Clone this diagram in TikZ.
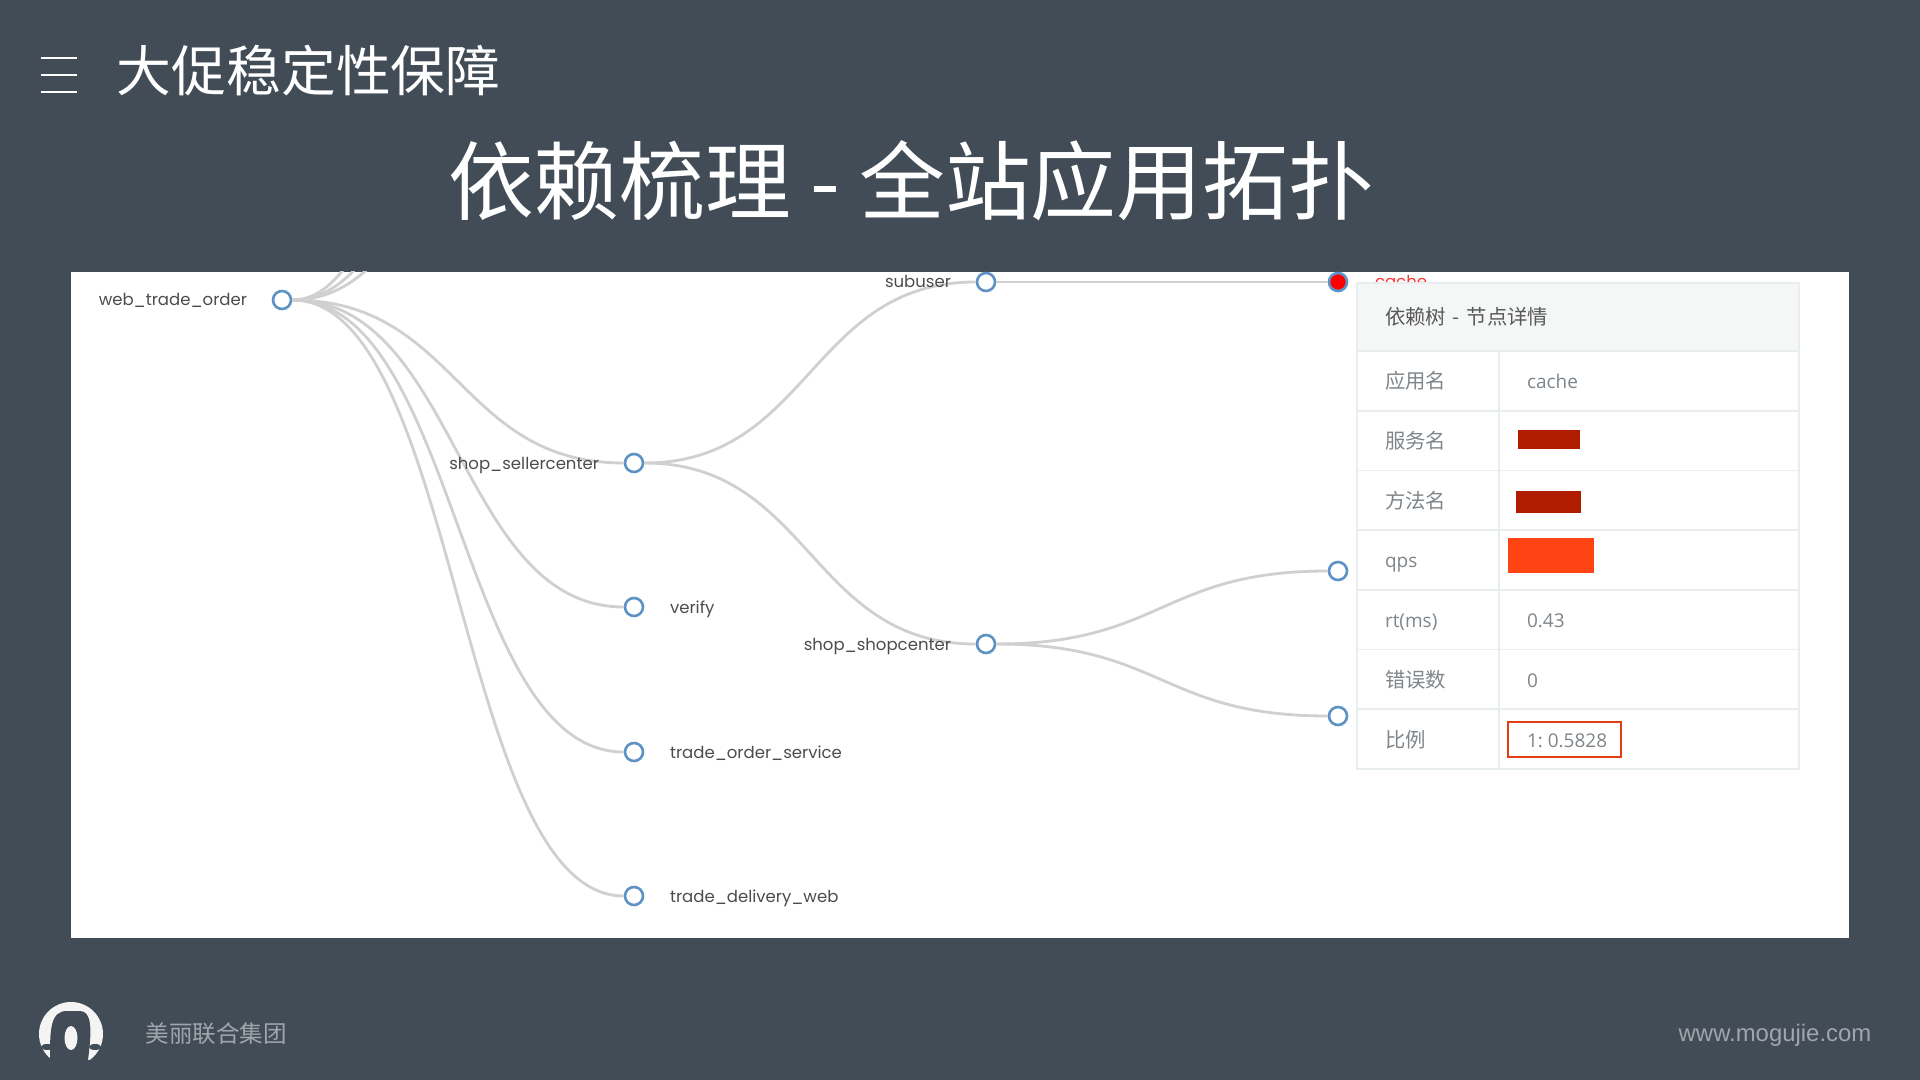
\documentclass[tikz,border=0pt]{standalone}
\usepackage{fontspec}
\newfontfamily\cjk{Noto Sans CJK SC}
\newfontfamily\graphfont{Poppins}
\newfontfamily\cellfont{Open Sans}
\newfontfamily\urlfont{Liberation Sans}
\definecolor{slide}{HTML}{414C56}
\definecolor{edge}{HTML}{D0D0D0}
\definecolor{ring}{HTML}{5F93C6}
\definecolor{cellline}{HTML}{E8EDEF}
\definecolor{headfill}{HTML}{F5F7F7}
\definecolor{celltext}{HTML}{7F868B}
\definecolor{darkred}{HTML}{B01C00}
\definecolor{hotred}{HTML}{FF4414}
\usetikzlibrary{positioning}

\begin{document}
\begin{tikzpicture}[
    dot/.style={circle, draw=ring, fill=white, line width=0.75pt, minimum size=0.18cm, inner sep=0pt},
    link/.style={draw=edge, line width=0.8pt},
    treelabel/.style={font=\graphfont\fontsize{4.7}{6}\selectfont, text=black!70, inner sep=0pt, text height=0.17cm, text depth=0.05cm},
    headcell/.style={draw=cellline, fill=headfill, line width=0.5pt, outer sep=0pt, minimum height=0.68cm, inner ysep=0pt, inner xsep=0.28cm, text width=3.86cm, align=left, font=\cjk\fontsize{5.8}{7}\selectfont, text=black!65},
    keycell/.style={draw=cellline, fill=white, line width=0.5pt, outer sep=0pt, minimum height=0.597cm, inner ysep=0pt, inner xsep=0.28cm, text width=0.86cm, text height=0.19cm, text depth=0.03cm, align=left, font=\cjk\fontsize{5.8}{7}\selectfont, text=celltext},
    valcell/.style={draw=cellline, fill=white, line width=0.5pt, outer sep=0pt, minimum height=0.597cm, inner ysep=0pt, inner xsep=0.28cm, text width=2.44cm, text height=0.19cm, text depth=0.03cm, align=left, font=\cellfont\fontsize{5.4}{7}\selectfont, text=celltext},
]
\useasboundingbox (0,0) rectangle (19.2,-10.8);
\fill[slide] (0,0) rectangle (19.2,-10.8);

% ====== Heading ======
\draw[white, line width=0.8pt] (0.41,-0.58) -- (0.77,-0.58);
\draw[white, line width=0.8pt] (0.41,-0.75) -- (0.77,-0.75);
\draw[white, line width=0.8pt] (0.41,-0.92) -- (0.77,-0.92);
\node[text=white, font=\cjk\fontsize{15.6}{18}\selectfont, anchor=west, inner sep=0pt] (section) at (1.16,-0.71) {大促稳定性保障};
\node[text=white, font=\cjk\fontsize{24.4}{30}\selectfont, inner sep=0pt] (title) at (9.11,-1.81) {依赖梳理 - 全站应用拓扑};

% ====== Panel ======
\fill[white] (0.71,-2.72) rectangle (18.49,-9.38);

% ====== Tree ======
\node[dot] (web) at (2.82,-3.0) {};
\node[dot] (seller) at (6.34,-4.63) {};
\node[dot] (verify) at (6.34,-6.07) {};
\node[dot] (order) at (6.34,-7.52) {};
\node[dot] (delivery) at (6.34,-8.96) {};
\node[dot] (subuser) at (9.86,-2.82) {};
\node[dot] (shop) at (9.86,-6.44) {};
\node[dot, fill=red] (cache) at (13.38,-2.82) {};
\node[dot] (leafA) at (13.38,-5.71) {};
\node[dot] (leafB) at (13.38,-7.16) {};

\coordinate (upA) at (6.34,0.64);
\coordinate (upB) at (6.34,2.40);
\coordinate (upC) at (6.34,5.33);

\begin{scope}
\clip (0.71,-2.72) rectangle (18.49,-9.38);
\draw[link] (web) .. controls +(1.76,0) and +(-1.76,0) .. (upA);
\draw[link] (web) .. controls +(1.76,0) and +(-1.76,0) .. (upB);
\draw[link] (web) .. controls +(1.76,0) and +(-1.76,0) .. (upC);
\end{scope}
\draw[link] (web) .. controls +(1.76,0) and +(-1.76,0) .. (seller);
\draw[link] (web) .. controls +(1.76,0) and +(-1.76,0) .. (verify);
\draw[link] (web) .. controls +(1.76,0) and +(-1.76,0) .. (order);
\draw[link] (web) .. controls +(1.76,0) and +(-1.76,0) .. (delivery);
\draw[link] (seller) .. controls +(1.76,0) and +(-1.76,0) .. (subuser);
\draw[link] (seller) .. controls +(1.76,0) and +(-1.76,0) .. (shop);
\draw[link] (subuser) -- (cache);
\draw[link] (shop) .. controls +(1.76,0) and +(-1.76,0) .. (leafA);
\draw[link] (shop) .. controls +(1.76,0) and +(-1.76,0) .. (leafB);

\node[treelabel, left=0.24cm of web] (webName) {web\_trade\_order};
\node[treelabel, left=0.24cm of seller] (sellerName) {shop\_sellercenter};
\node[treelabel, right=0.25cm of verify] (verifyName) {verify};
\node[treelabel, right=0.25cm of order] (orderName) {trade\_order\_service};
\node[treelabel, right=0.25cm of delivery] (deliveryName) {trade\_delivery\_web};
\node[treelabel, left=0.24cm of subuser] (subuserName) {subuser};
\node[treelabel, left=0.24cm of shop] (shopName) {shop\_shopcenter};
\node[treelabel, right=0.26cm of cache, text=red!80] (cacheName) {cache};

% ====== Details ======
\node[headcell, anchor=north west] (detailHead) at (13.57,-2.83) {依赖树 - 节点详情};
\node[keycell, anchor=north west] (keyApp) at (detailHead.south west) {应用名};
\node[keycell, below=0pt of keyApp] (keyService) {服务名};
\node[keycell, below=0pt of keyService] (keyMethod) {方法名};
\node[keycell, below=0pt of keyMethod, font=\cellfont\fontsize{5.4}{7}\selectfont] (keyQps) {qps};
\node[keycell, below=0pt of keyQps, font=\cellfont\fontsize{5.4}{7}\selectfont] (keyRt) {rt(ms)};
\node[keycell, below=0pt of keyRt] (keyError) {错误数};
\node[keycell, below=0pt of keyError] (keyRatio) {比例};

\node[valcell, right=0pt of keyApp] (valApp) {cache};
\node[valcell, right=0pt of keyService] (valService) {};
\node[valcell, right=0pt of keyMethod] (valMethod) {};
\node[valcell, right=0pt of keyQps] (valQps) {};
\node[valcell, right=0pt of keyRt] (valRt) {0.43};
\node[valcell, right=0pt of keyError] (valError) {0};
\node[valcell, right=0pt of keyRatio] (valRatio) {1:\hspace{-1.3pt} 0.5828};

\fill[darkred] (15.18,-4.30) rectangle (15.80,-4.49);
\fill[darkred] (15.16,-4.91) rectangle (15.81,-5.13);
\fill[hotred] (15.08,-5.38) rectangle (15.94,-5.73);
\draw[hotred!90!black, line width=0.5pt] (15.08,-7.22) rectangle (16.21,-7.57);

% ====== Footer ======
\fill[white!94!slide] (0.71,-10.34) circle (0.32);
\fill[slide] (0.50,-10.60) .. controls (0.50,-10.30) and (0.50,-10.11) .. (0.67,-10.11) -- (0.80,-10.11) .. controls (0.92,-10.11) and (0.92,-10.30) .. (0.88,-10.60) -- cycle;
\fill[slide] (0.47,-10.47) ellipse (0.06 and 0.03);
\fill[slide] (0.95,-10.47) ellipse (0.06 and 0.03);
\fill[white!94!slide] (0.71,-10.38) ellipse (0.065 and 0.12);
\fill[slide] (0.3,-10.60) rectangle (1.1,-10.7);
\node[text=white!50!slide, font=\cjk\fontsize{6.7}{8}\selectfont, anchor=west, inner sep=0pt] (company) at (1.45,-10.34) {美丽联合集团};
\node[text=white!50!slide, font=\urlfont\fontsize{6.8}{8}\selectfont, anchor=east, inner sep=0pt] (site) at (18.72,-10.35) {www.mogujie.com};
\end{tikzpicture}
\end{document}
